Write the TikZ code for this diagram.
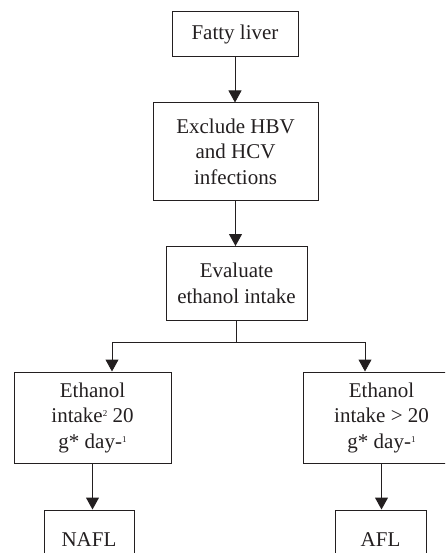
\documentclass[tikz,border=0pt]{standalone}
\usepackage{fontspec}
\setmainfont{Liberation Serif}
\usetikzlibrary{arrows.meta}
\definecolor{ink}{RGB}{35,31,32}
\newcommand{\sups}[1]{\raisebox{0.6ex}{\fontsize{9pt}{9pt}\selectfont #1}}
\begin{document}
\begin{tikzpicture}[x=1pt,y=-1pt,
  box/.style={draw=ink, line width=1pt, inner sep=0pt, align=center,
    font=\fontsize{21pt}{25.5pt}\selectfont, text=ink},
  arr/.style={draw=ink, line width=1pt, -{Triangle[width=13pt,length=12pt]}},
  ln/.style={draw=ink, line width=1pt}]
\useasboundingbox (0,0) rectangle (445,553);
\clip (0,0) rectangle (445,553);
\node[box, minimum width=126pt, minimum height=45pt] (fatty) at (235,34.5) {Fatty liver};
\node[box, minimum width=165pt, minimum height=97pt] (excl) at (235.5,151.5) {Exclude HBV\\and HCV\\infections};
\node[box, minimum width=141pt, minimum height=74pt] (eval) at (236.5,283.5) {Evaluate\\ethanol intake};
\node[box, minimum width=157pt, minimum height=91pt] (left) at (92.5,417.5) {Ethanol\\intake\sups{2} 20\\g* day-\sups{1}};
\node[box, minimum width=157pt, minimum height=91pt] (right) at (381.5,417.5) {Ethanol\\intake > 20\\g* day-\sups{1}};
\node[box, minimum width=90pt, minimum height=60pt] (nafl) at (89,540) {NAFL};
\node[box, minimum width=91pt, minimum height=60pt] (afl) at (380.5,540) {AFL};
\coordinate (split) at (236.5,342);
\coordinate (lt) at (112,342);
\coordinate (rt) at (365,342);
\draw[arr] (fatty.south) -- (fatty.south |- excl.north);
\draw[arr] (excl.south) -- (excl.south |- eval.north);
\draw[ln] (eval.south) -- (split);
\draw[arr] (split) -- (lt) -- (lt |- left.north);
\draw[arr] (split) -- (rt) -- (rt |- right.north);
\draw[arr] (left.south) -- (left.south |- nafl.north);
\draw[arr] (right.south) -- (right.south |- afl.north);
\end{tikzpicture}
\end{document}
